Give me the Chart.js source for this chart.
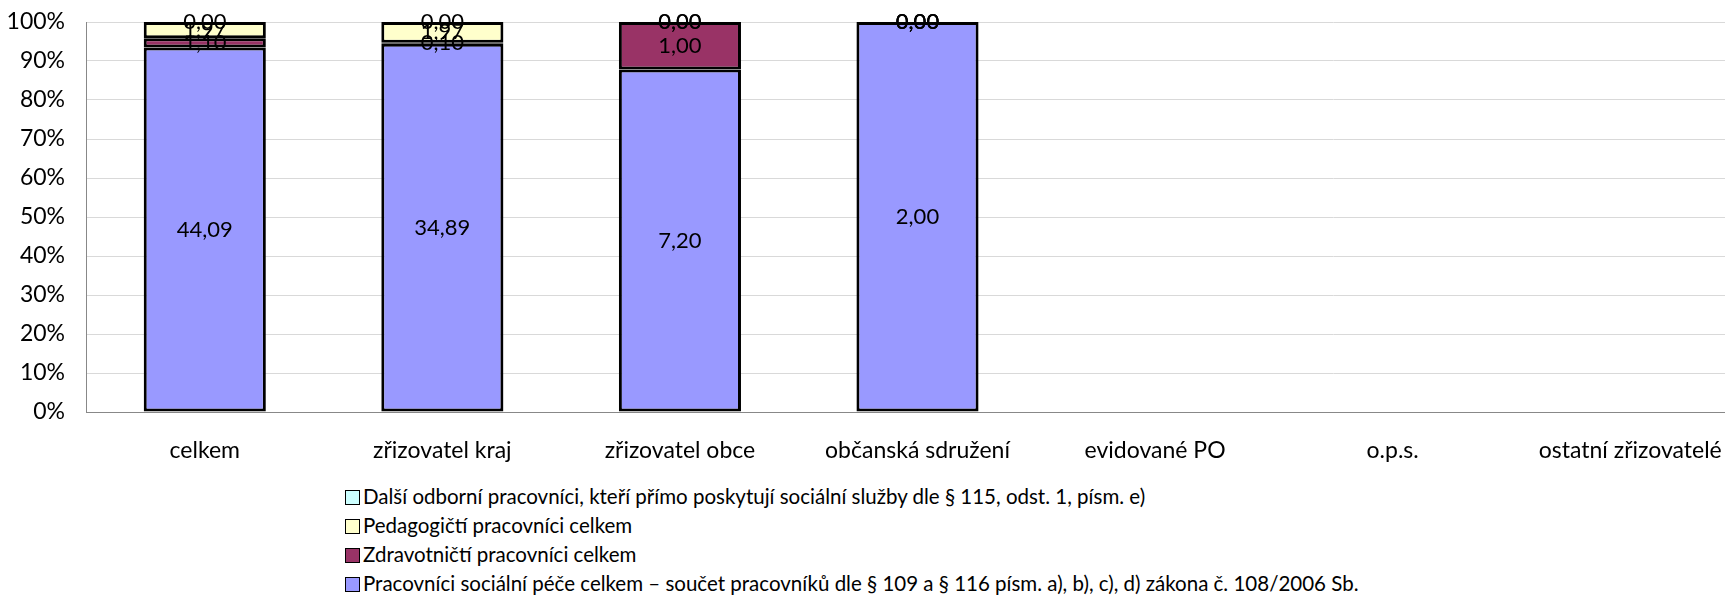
<!DOCTYPE html>
<html>
<head>
<meta charset="utf-8">
<script src="https://cdn.jsdelivr.net/npm/chart.js@4/dist/chart.umd.min.js"></script>
<style>
  html, body { margin: 0; padding: 0; background: #fff; overflow: hidden; }
  #wrap { position: relative; width: 1725px; height: 596px; overflow: hidden; }
  #chart { position: absolute; left: 0; top: 0; }
  #legend { position: absolute; left: 345px; top: 482px; font-family: Lato, sans-serif; font-size: 20.5px; color: #000; }
  #legend div { height: 29px; line-height: 29px; white-space: nowrap; }
  #legend span.box { display: inline-block; width: 13px; height: 13px; border: 1.5px solid #000; margin-right: 3px; vertical-align: -1px; }
</style>
</head>
<body>
<div id="wrap">
  <canvas id="chart" width="1750" height="470"></canvas>
  <div id="legend"></div>
</div>
<script>
// Categories and series
const categories = ['celkem', 'zřizovatel kraj', 'zřizovatel obce', 'občanská sdružení', 'evidované PO', 'o.p.s.', 'ostatní zřizovatelé'];

const pecePracovnici = [44.09, 34.89, 7.20, 2.00, null, null, null];
const zdravotnici = [1.10, 0.10, 1.00, 0.00, null, null, null];
const pedagogove = [1.97, 1.97, 0.00, 0.00, null, null, null];
const dalsiOdborni = [0.00, 0.00, 0.00, 0.00, null, null, null];

const yTicks = [0, 10, 20, 30, 40, 50, 60, 70, 80, 90, 100];

const seriesNames = [
    'Pracovníci sociální péče celkem – součet pracovníků dle § 109 a § 116 písm. a), b), c), d) zákona č. 108/2006 Sb.',
    'Zdravotničtí pracovníci celkem',
    'Pedagogičtí pracovníci celkem',
    'Další odborní pracovníci, kteří přímo poskytují sociální služby dle § 115, odst. 1, písm. e)'
];
const seriesColors = ['#9999FF', '#993366', '#FFFFCC', '#CCFFFF'];
const seriesValues = [pecePracovnici, zdravotnici, pedagogove, dalsiOdborni];

// totals per category, to turn raw numbers into 100% stacked shares
const totals = categories.map((c, i) => {
    let sum = 0, any = false;
    seriesValues.forEach(s => { if (s[i] != null) { sum += s[i]; any = true; } });
    return any ? sum : null;
});

const datasets = seriesValues.map((vals, k) => ({
    label: seriesNames[k],
    data: vals.map((v, i) => (v == null || !totals[i]) ? null : v / totals[i] * 100),
    rawValues: vals,
    backgroundColor: seriesColors[k],
    borderColor: '#000',
    borderWidth: 3,
    borderSkipped: false,
    categoryPercentage: 1,
    barPercentage: 0.514
}));

// draws the raw value in the middle of every segment
const valueLabels = {
    id: 'valueLabels',
    afterDatasetsDraw(chart) {
        const ctx = chart.ctx;
        ctx.save();
        ctx.font = '22px Lato';
        ctx.fillStyle = '#000';
        ctx.textAlign = 'center';
        ctx.textBaseline = 'middle';
        chart.data.datasets.forEach((ds, i) => {
            const meta = chart.getDatasetMeta(i);
            meta.data.forEach((bar, j) => {
                const raw = ds.rawValues[j];
                if (raw == null) return;
                const p = bar.getProps(['x', 'y', 'base'], true);
                ctx.fillText(raw.toFixed(2).replace('.', ','), p.x, (p.y + p.base) / 2);
            });
        });
        ctx.restore();
    }
};

new Chart(document.getElementById('chart').getContext('2d'), {
    type: 'bar',
    data: { labels: categories, datasets: datasets },
    options: {
        responsive: false,
        animation: false,
        layout: { padding: { top: 22, right: 1, left: 0, bottom: 0 } },
        plugins: { legend: { display: false }, tooltip: { enabled: false } },
        scales: {
            x: {
                stacked: true,
                grid: { display: false, drawTicks: false },
                border: { color: '#888', width: 1 },
                ticks: { color: '#000', font: { family: 'Lato', size: 23 }, padding: 25, maxRotation: 0, autoSkip: false },
                afterFit: s => { s.height = 58; }
            },
            y: {
                stacked: true,
                min: 0,
                max: 100,
                afterBuildTicks: s => { s.ticks = yTicks.map(v => ({ value: v })); },
                grid: { color: '#d9d9d9', drawTicks: false },
                border: { color: '#888', width: 1 },
                ticks: { color: '#000', font: { family: 'Lato', size: 23 }, padding: 21, callback: v => v + '%' },
                // fixed axis width; drop the label overhang so the plot starts at the top padding
                afterFit: s => { s.width = 86; s.paddingTop = 0; s.paddingBottom = 0; }
            }
        }
    },
    plugins: [valueLabels]
});

// legend, listed top-down in reverse stacking order like the original
const legend = document.getElementById('legend');
for (let k = seriesNames.length - 1; k >= 0; k--) {
    const row = document.createElement('div');
    const box = document.createElement('span');
    box.className = 'box';
    box.style.background = seriesColors[k];
    row.appendChild(box);
    row.appendChild(document.createTextNode(seriesNames[k]));
    legend.appendChild(row);
}
</script>
</body>
</html>
